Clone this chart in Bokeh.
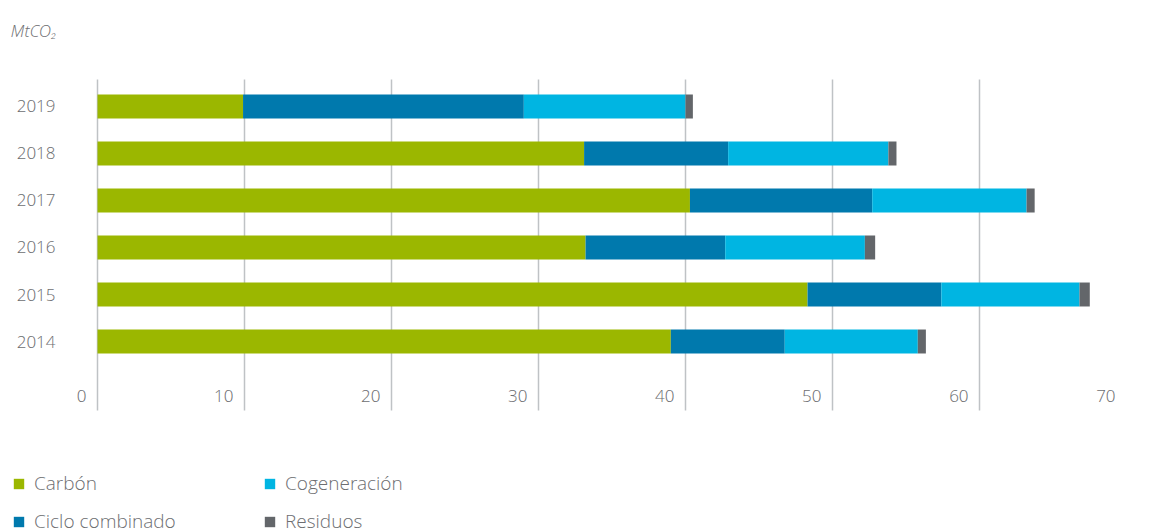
from bokeh.plotting import figure
from bokeh.models import ColumnDataSource, Range1d, FixedTicker, Legend, LegendItem, Label
from bokeh.core.properties import value
from bokeh.embed import file_html
from bokeh.resources import INLINE

years = [2014, 2015, 2016, 2017, 2018, 2019]
carbon = [39.0, 48.3, 33.2, 40.3, 33.1, 9.9]
ciclo = [7.75, 9.1, 9.5, 12.4, 9.8, 19.1]
cogen = [9.05, 9.4, 9.5, 10.5, 10.9, 11.0]
residuos = [0.55, 0.7, 0.7, 0.55, 0.55, 0.5]
series_names = ["Carbón", "Ciclo combinado", "Cogeneración", "Residuos"]
colors = ["#9BB700", "#0079AD", "#00B5E2", "#63666A"]
x_ticks = [0, 10, 20, 30, 40, 50, 60, 70]
grid_ticks = [0, 10, 20, 30, 40, 50, 60]
unit_label = "MtCO₂"

FONT = "Open Sans Light, Lato Light, Open Sans"
GRAY = "#6D6E71"

src = ColumnDataSource(dict(year=years, year_label=[str(y) for y in years], zero=[0] * len(years),
                            c0=carbon, c1=ciclo, c2=cogen, c3=residuos))

p = figure(width=1155, height=530, output_backend="svg", toolbar_location=None,
           x_range=Range1d(-6.599, 71.97), y_range=Range1d(2009.979, 2021.255),
           min_border=0, x_axis_location=None, y_axis_location=None)
p.outline_line_color = None
p.background_fill_color = "white"

p.ygrid.grid_line_color = None
p.xgrid.ticker = FixedTicker(ticks=grid_ticks)
p.xgrid.cross_bounds = (2012.532, 2019.574)
p.xgrid.grid_line_color = "#BFC2C5"
p.xgrid.grid_line_width = 1.5

renderers = p.hbar_stack(["c0", "c1", "c2", "c3"], y="year", height=0.51, source=src,
                         color=colors, line_color=None)

# year labels, left of the zero line
p.text(x="zero", y="year", text="year_label", source=src, x_offset=-42,
       text_align="right", text_baseline="middle", text_font=value(FONT),
       text_font_size="17px", text_color=GRAY)

# value labels, just left of each gridline near the bottom
lab_src = ColumnDataSource(dict(x=x_ticks, y=[2012.83] * len(x_ticks), t=[str(v) for v in x_ticks]))
p.text(x="x", y="y", text="t", source=lab_src, x_offset=-11, text_align="right",
       text_baseline="middle", text_font=value(FONT), text_font_size="17px", text_color=GRAY)

legend = Legend(items=[LegendItem(label=n, renderers=[r]) for n, r in zip(series_names, renderers)],
                location=(12, -4), ncols=2, padding=0, margin=0,
                border_line_color=None, background_fill_alpha=0,
                glyph_width=13, glyph_height=13, label_standoff=9, spacing=12,
                label_width=217, label_height=22,
                label_text_font=FONT, label_text_font_size="19px", label_text_color=GRAY)
p.add_layout(legend)

p.add_layout(Label(x=10, y=500, x_units="screen", y_units="screen", text=unit_label,
                   text_font=FONT, text_font_style="italic", text_font_size="17px",
                   text_color=GRAY, text_baseline="middle"))

open("out.html", "w").write(file_html(p, INLINE))
